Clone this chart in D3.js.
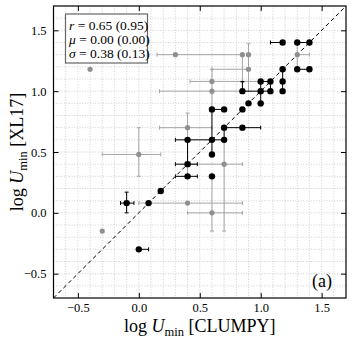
<!DOCTYPE html>
<meta charset="utf-8">
<script src="https://d3js.org/d3.v7.min.js"></script>
<style>
  body { margin: 0; background: #fff; }
  text { font-family: "Liberation Serif", "Times New Roman", serif; }
</style>
<div id="my_dataviz"></div>

<script>
    // black points: value and error sizes (lower / upper)
    var blackX = [1.18, 1.30, 1.40, 1.18, 1.30, 1.40, 1.00, 1.08, 1.18, 0.85, 1.00, 1.08, 1.18, 0.90, 1.00, 0.60, 0.70, 0.85, 0.70, 0.85, 0.40, 0.60, 0.70, 0.60, 0.40, 0.40, 0.60, 0.18, 0.08, -0.10, 0.00];
    var blackY = [1.40, 1.40, 1.40, 1.18, 1.18, 1.18, 1.08, 1.08, 1.08, 1.00, 1.00, 1.00, 1.00, 0.90, 0.90, 0.85, 0.85, 0.85, 0.70, 0.70, 0.60, 0.60, 0.60, 0.48, 0.40, 0.30, 0.30, 0.18, 0.08, 0.08, -0.30];
    var blackXLo = [0.10, 0, 0, 0, 0, 0, 0, 0, 0, 0, 0, 0, 0, 0, 0, 0, 0, 0, 0, 0, 0.10, 0, 0, 0, 0.10, 0.10, 0, 0, 0, 0.05, 0];
    var blackXHi = [0, 0.10, 0, 0, 0.10, 0, 0.08, 0, 0, 0.23, 0, 0, 0, 0, 0, 0.10, 0, 0, 0.15, 0.15, 0.30, 0, 0, 0, 0.08, 0.08, 0, 0, 0, 0.06, 0.08];
    var blackYLo = [0, 0, 0, 0, 0, 0, 0, 0.08, 0.08, 0, 0.12, 0, 0, 0, 0, 0, 0, 0, 0, 0, 0, 0.12, 0, 0, 0, 0, 0, 0, 0, 0.08, 0];
    var blackYHi = [0, 0, 0, 0, 0, 0, 0, 0, 0.10, 0.08, 0.08, 0, 0, 0, 0, 0, 0, 0, 0, 0, 0, 0.25, 0.10, 0, 0.20, 0, 0, 0, 0, 0.09, 0];

    // grey points
    var greyX = [-0.40, 0.30, 0.85, 0.90, 1.30, 0.90, 0.60, 0.60, 0.40, 0.70, 0.00, 0.40, 0.60, -0.30];
    var greyY = [1.18, 1.30, 1.30, 1.30, 1.30, 1.18, 1.08, 1.00, 0.70, 0.40, 0.48, 0.08, 0.00, -0.15];
    var greyXLo = [0, 0.15, 0, 0, 0, 0.30, 0.18, 0.43, 0.23, 0.28, 0.30, 0.40, 0.20, 0];
    var greyXHi = [0, 0.55, 0, 0, 0.10, 0, 0.40, 0.25, 0.20, 0.15, 0.18, 0.45, 0.25, 0];
    var greyYLo = [0, 0, 0.23, 0.30, 0.12, 0, 0.23, 0, 0.40, 0.55, 0.18, 0, 0.15, 0];
    var greyYHi = [0, 0, 0, 0.09, 0.10, 0, 0.10, 0, 0.12, 0.20, 0.22, 0, 0.30, 0];

    var tickValues = [-0.5, 0.0, 0.5, 1.0, 1.5];
    var statLines = [["r", "0.65 (0.95)"], ["\u03bc", "0.00 (0.00)"], ["\u03c3", "0.38 (0.13)"]];
    var panelLabel = "(a)";

    var margin = {top: 6, right: 6, bottom: 42, left: 53.5},
        width = 352 - margin.left - margin.right,
        height = 340 - margin.top - margin.bottom;

    var svg = d3.select("#my_dataviz")
        .append("svg")
        .attr("width", 352)
        .attr("height", 340)
        .append("g")
        .attr("transform", "translate(" + margin.left + "," + margin.top + ")");

    var x = d3.scaleLinear().domain([-0.7, 1.7]).range([0, width]);
    var y = d3.scaleLinear().domain([-0.7, 1.7]).range([height, 0]);

    // dotted grid every 0.1
    var gridVals = d3.range(-6, 17).map(function(i) { return i / 10; });
    svg.append("g").selectAll("line").data(gridVals).enter().append("line")
        .attr("x1", function(d) { return x(d); }).attr("x2", function(d) { return x(d); })
        .attr("y1", 0).attr("y2", height)
        .attr("stroke", "#c4c4c4").attr("stroke-width", 0.8).attr("stroke-dasharray", "1,1.6");
    svg.append("g").selectAll("line").data(gridVals).enter().append("line")
        .attr("y1", function(d) { return y(d); }).attr("y2", function(d) { return y(d); })
        .attr("x1", 0).attr("x2", width)
        .attr("stroke", "#c4c4c4").attr("stroke-width", 0.8).attr("stroke-dasharray", "1,1.6");

    // one-to-one line
    svg.append("line")
        .attr("x1", x(-0.7)).attr("y1", y(-0.7)).attr("x2", x(1.7)).attr("y2", y(1.7))
        .attr("stroke", "#000").attr("stroke-width", 1).attr("stroke-dasharray", "4,3");

    function drawSet(xs, ys, xlo, xhi, ylo, yhi, lineColor, dotColor, r) {
        var g = svg.append("g");
        var cap = 2;
        xs.forEach(function(v, i) {
            var cx = x(v), cy = y(ys[i]);
            if (xlo[i] > 0 || xhi[i] > 0) {
                var a = x(v - xlo[i]), b = x(v + xhi[i]);
                g.append("line").attr("x1", a).attr("x2", b).attr("y1", cy).attr("y2", cy)
                    .attr("stroke", lineColor).attr("stroke-width", 1);
                if (xlo[i] > 0) g.append("line").attr("x1", a).attr("x2", a).attr("y1", cy - cap).attr("y2", cy + cap).attr("stroke", lineColor);
                if (xhi[i] > 0) g.append("line").attr("x1", b).attr("x2", b).attr("y1", cy - cap).attr("y2", cy + cap).attr("stroke", lineColor);
            }
            if (ylo[i] > 0 || yhi[i] > 0) {
                var c = y(ys[i] - ylo[i]), e = y(ys[i] + yhi[i]);
                g.append("line").attr("x1", cx).attr("x2", cx).attr("y1", c).attr("y2", e)
                    .attr("stroke", lineColor).attr("stroke-width", 1);
                if (ylo[i] > 0) g.append("line").attr("y1", c).attr("y2", c).attr("x1", cx - cap).attr("x2", cx + cap).attr("stroke", lineColor);
                if (yhi[i] > 0) g.append("line").attr("y1", e).attr("y2", e).attr("x1", cx - cap).attr("x2", cx + cap).attr("stroke", lineColor);
            }
        });
        g.selectAll("circle").data(xs).enter().append("circle")
            .attr("cx", function(d) { return x(d); })
            .attr("cy", function(d, i) { return y(ys[i]); })
            .attr("r", r)
            .attr("fill", dotColor);
    }

    drawSet(greyX, greyY, greyXLo, greyXHi, greyYLo, greyYHi, "#a6a6a6", "#8f8f8f", 2.6);
    drawSet(blackX, blackY, blackXLo, blackXHi, blackYLo, blackYHi, "#000", "#000", 3.2);

    // axes with inward ticks on all sides
    var fmt = d3.format(".1f");
    var axes = [
        svg.append("g").attr("transform", "translate(0," + height + ")")
            .call(d3.axisBottom(x).tickValues(tickValues).tickFormat(fmt).tickSizeInner(-5).tickSizeOuter(0).tickPadding(5)),
        svg.append("g")
            .call(d3.axisLeft(y).tickValues(tickValues).tickFormat(fmt).tickSizeInner(-5).tickSizeOuter(0).tickPadding(7)),
        svg.append("g")
            .call(d3.axisTop(x).tickValues(tickValues).tickFormat("").tickSizeInner(-5).tickSizeOuter(0)),
        svg.append("g").attr("transform", "translate(" + width + ",0)")
            .call(d3.axisRight(y).tickValues(tickValues).tickFormat("").tickSizeInner(-5).tickSizeOuter(0))
    ];
    axes.forEach(function(a) { a.attr("font-family", "Liberation Serif").attr("font-size", 12.5); });
    svg.selectAll(".domain").remove();
    svg.selectAll(".tick line").attr("stroke", "#000").attr("stroke-width", 1);
    svg.selectAll(".tick text").attr("fill", "#000");

    svg.append("rect").attr("x", 0).attr("y", 0).attr("width", width).attr("height", height)
        .attr("fill", "none").attr("stroke", "#000").attr("stroke-width", 1.2);

    // stats box
    var box = svg.append("g").attr("transform", "translate(12,8)");
    box.append("rect").attr("x", 0).attr("y", 0).attr("width", 82).attr("height", 49)
        .attr("fill", "#fff").attr("stroke", "#666").attr("stroke-width", 1.2);
    statLines.forEach(function(s, i) {
        var t = box.append("text").attr("x", 3.5).attr("y", 15.5 + i * 14.2)
            .attr("font-size", 13.5).attr("fill", "#000");
        t.append("tspan").attr("font-style", "italic").text(s[0]);
        t.append("tspan").text(" = " + s[1]);
    });

    svg.append("text").attr("x", width - 14).attr("y", height - 11)
        .attr("text-anchor", "end").attr("font-size", 18).text(panelLabel);

    // axis labels
    function axisLabel(sel, tail) {
        sel.append("tspan").text("log ");
        sel.append("tspan").attr("font-style", "italic").text("U");
        sel.append("tspan").attr("font-size", 12.5).attr("dy", 4).text("min");
        sel.append("tspan").attr("dy", -4).text(" " + tail);
    }
    var xl = svg.append("text").attr("x", width / 2).attr("y", height + 34)
        .attr("text-anchor", "middle").attr("font-size", 18);
    axisLabel(xl, "[CLUMPY]");
    var yl = svg.append("text").attr("transform", "translate(-31," + (height / 2) + ") rotate(-90)")
        .attr("text-anchor", "middle").attr("font-size", 18);
    axisLabel(yl, "[XL17]");
</script>
